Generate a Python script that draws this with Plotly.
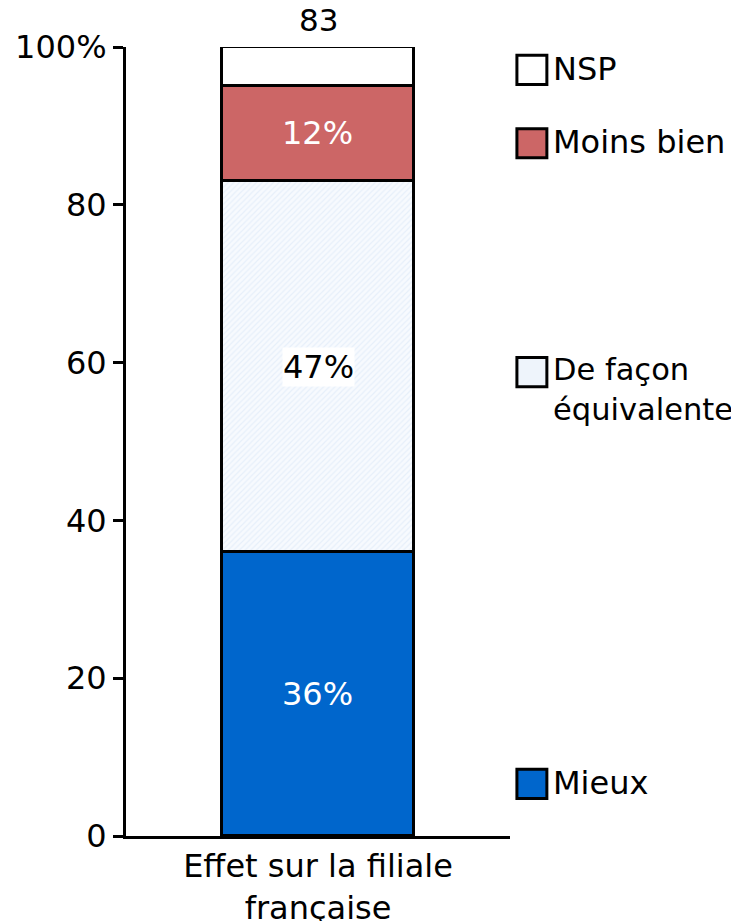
import plotly.graph_objects as go

category = ["Effet sur la filiale<br>française"]
series = ["Mieux", "De façon équivalente", "Moins bien", "NSP"]
values = [36, 47, 12, 5]
labels = ["36%", "47%", "12%", ""]
colors = ["#0066CC", "#EEF4FB", "#CC6666", "#FFFFFF"]
label_colors = ["white", "black", "white", "black"]
total_n = "83"

legend_names = ["NSP", "Moins bien", "De façon<br>équivalente", "Mieux"]
legend_colors = ["#FFFFFF", "#CC6666", "#EEF4FB", "#0066CC"]
legend_y = [97.1, 87.8, 58.8, 6.6]

FONT = "DejaVu Sans"
FS = 32

fig = go.Figure()
for i, name in enumerate(series):
    marker = dict(color=colors[i], line=dict(color="black", width=3))
    if name == "De façon équivalente":
        marker["pattern"] = dict(shape="/", fgcolor="#D6E4F5", bgcolor="#F7FAFE",
                                 size=4, solidity=0.3)
    fig.add_trace(go.Bar(
        x=category, y=[values[i]], name=name, marker=marker, width=0.5,
        text=[labels[i] if name != "De façon équivalente" else ""],
        textposition="inside", insidetextanchor="middle",
        textfont=dict(family=FONT, size=FS, color=label_colors[i]),
        showlegend=False,
    ))

# 47% sits on a white box
fig.add_annotation(x=category[0], y=values[0] + values[1] / 2, text=labels[1],
                   showarrow=False, bgcolor="white", borderpad=0,
                   font=dict(family=FONT, size=FS, color="black"))

# total above bar
fig.add_annotation(x=category[0], y=100, text=total_n, showarrow=False,
                   yanchor="bottom", yshift=7,
                   font=dict(family=FONT, size=31, color="black"))

# hand-made legend
for name, col, yv in zip(legend_names, legend_colors, legend_y):
    fig.add_shape(type="rect", xref="paper", yref="y",
                  x0=1.018, x1=1.096, y0=yv - 1.85, y1=yv + 1.85,
                  line=dict(color="black", width=3), fillcolor=col)
    fig.add_annotation(xref="paper", yref="y", x=1.106, y=yv, text=name,
                       showarrow=False, xanchor="left", yanchor="top", align="left",
                       yshift=22,
                       font=dict(family=FONT, size=FS if "<br>" not in name else 30.5,
                                 color="black"))

# the page puts the figure about 8px in from the top-left corner
fig.update_layout(
    width=731, height=913,
    margin=dict(l=118, r=229, t=39, b=85),
    plot_bgcolor="white", paper_bgcolor="white",
    barmode="stack", bargap=0,
    font=dict(family=FONT, size=FS, color="black"),
    xaxis=dict(range=[-0.5, 0.5], showline=True, linecolor="black", linewidth=3,
               ticks="", showgrid=False, automargin=False,
               tickfont=dict(size=FS)),
    yaxis=dict(range=[0, 100], showline=True, linecolor="black", linewidth=3,
               ticks="outside", ticklen=10, tickwidth=3, tickcolor="black",
               tickvals=[0, 20, 40, 60, 80, 100],
               ticktext=["0", "20", "40", "60", "80", "100%"],
               showgrid=False, zeroline=False, automargin=False,
               tickfont=dict(size=FS)),
)

fig.write_html("out.html")
